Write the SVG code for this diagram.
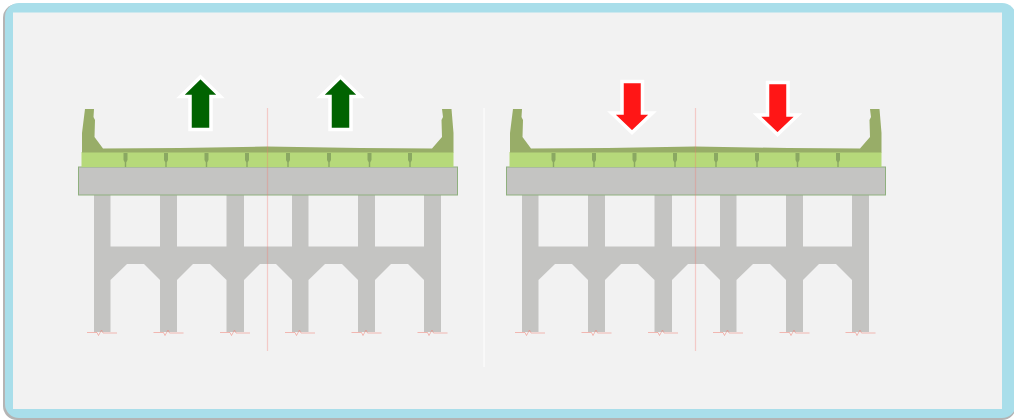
<svg xmlns="http://www.w3.org/2000/svg" width="1014" height="420" viewBox="0 0 1014 420">
<style>
.frame{fill:#a9deea}
.panel{fill:#f2f2f2}
.concrete{fill:#c4c4c2}
.cap{fill:#c4c4c2;stroke:#8fb07e;stroke-width:1}
.slab{fill:#b6d97a}
.top{fill:#98ad68}
.rib{fill:#8aa862}
.axis{stroke:#f7766c;stroke-opacity:.32;stroke-width:1.200;fill:none}
.foot{stroke:#f0867c;stroke-opacity:.55;stroke-width:1;fill:none}
.up{fill:#006400;stroke:#fff;stroke-width:3.500;stroke-linejoin:miter;stroke-miterlimit:8}
.down{fill:#ff1414;stroke:#fff;stroke-width:3.500;stroke-linejoin:miter;stroke-miterlimit:8}
</style>
<defs>
<filter id="soft" x="-5%" y="-5%" width="110%" height="110%"><feGaussianBlur stdDeviation="0.45"/></filter>
<path id="rib" class="rib" d="M-2 153V160L-0.700 162.500V167H0.700V162.500L2 160V153Z"/>
<path id="foot" class="foot" d="M-15 332.500H-5L-3.500 335.500L-0.500 330L1 333H15"/>
<g id="bridge">
<path class="concrete" d="M94 195H110.500V246.500H160V195H177V246.500H226.500V195H244V246.500H292V195H308.500V246.500H358V195H375V246.500H424V195H441V332H424V280L408 264H391L375 280V332H358V280L342 264H325L308.500 280V332H292V280L276 264H260L244 280V332H226.500V280L210 264H193L177 280V332H160V280L144 264H127L110.500 280V332H94Z"/>
<rect class="cap" x="78.500" y="167" width="379" height="28"/>
<rect class="slab" x="81.500" y="152" width="372" height="15"/>
<path class="top" d="M82 152.500V133L85 109H94L93.500 117L95 120L94.500 137L103 148.500L180 148L267 146.500L360 148L432 148.500L442 137L441.500 120L443 117L442 109H451.500L453.500 133V152.500Z"/>
<use href="#rib" x="125.500"/><use href="#rib" x="166"/><use href="#rib" x="206.500"/><use href="#rib" x="247"/>
<use href="#rib" x="288"/><use href="#rib" x="329"/><use href="#rib" x="369.500"/><use href="#rib" x="410"/>
<use href="#foot" x="102"/><use href="#foot" x="168.500"/><use href="#foot" x="235"/><use href="#foot" x="300"/><use href="#foot" x="366.500"/><use href="#foot" x="432.500"/>
<line class="axis" x1="267.500" y1="108" x2="267.500" y2="351"/>
</g>
</defs>
<rect width="1014" height="420" fill="#fff"/>
<g filter="url(#soft)">
<rect x="3" y="4" width="1013" height="416" rx="14" fill="#b4b4b4"/>
<rect class="frame" x="5" y="3" width="1011" height="415" rx="14"/>
<rect class="panel" x="13" y="12.500" width="989" height="396.500"/>
<line x1="484" y1="108" x2="484" y2="367" stroke="#fff" stroke-width="1"/>
<use href="#bridge"/>
<use href="#bridge" x="428"/>
<path class="up" d="M200.500 77L220.500 96.500H211V129.500H190V96.500H180.500Z"/>
<path class="up" d="M340.500 77L360.500 96.500H351V129.500H330V96.500H320.500Z"/>
<path class="down" d="M622 81.500H642.500V113H652.500L632 132.500L611.500 113H622Z"/>
<path class="down" d="M767.500 82.500H788V115H798L777.500 134.500L757 115H767.500Z"/>
</g>
</svg>
